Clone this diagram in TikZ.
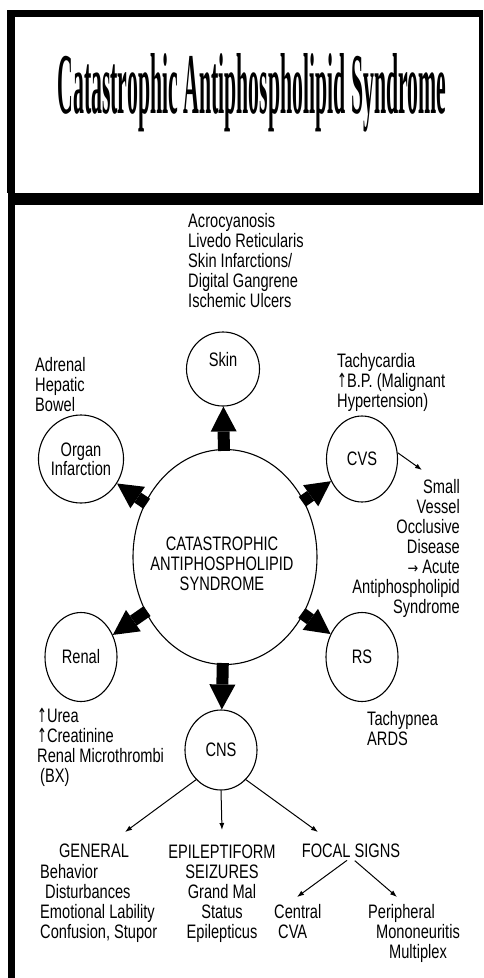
\documentclass[tikz,border=0pt]{standalone}
\usepackage{fontspec}
\usepackage{graphicx}
\setmainfont{Liberation Sans}[FakeStretch=0.75]
\newfontfamily\titlefont{Liberation Serif}
\newfontfamily\arrowfont{DejaVu Sans}[FakeStretch=0.6]
\newfontfamily\widearrowfont{DejaVu Sans}[FakeStretch=0.85]
\usetikzlibrary{arrows.meta, shapes.geometric}

\begin{document}
\begin{tikzpicture}[x=1pt, y=-1pt,
  font=\fontsize{19.5pt}{20pt}\selectfont,
  organ/.style={draw, ellipse, line width=1.1pt, inner sep=0pt},
  list/.style={align=left, anchor=base west, inner sep=0pt},
  thickarrow/.style={line width=12pt, -{Triangle[length=25pt, width=26pt, line width=0pt]}, shorten <=-2pt},
  thinarrow/.style={line width=1pt, -{Latex[length=7pt, width=5pt]}}]
\useasboundingbox (0,0) rectangle (483,978);
\fill (7,10) rectangle (483,17);
\fill (7,10) rectangle (15,193);
\fill (479,10) rectangle (483,205);
\fill (8,193) rectangle (483,205);
\fill (8,193) rectangle (15,978);
\node[anchor=base, inner sep=0pt] (title) at (252,113) {\resizebox{389pt}{60pt}{\titlefont\bfseries Catastrophic Antiphospholipid Syndrome}};
\node[organ, minimum width=184pt, minimum height=215pt] (main) at (225,557) {};
\node[align=center, anchor=base, inner sep=0pt] (maintext) at (222,590) {CATASTROPHIC\\ANTIPHOSPHOLIPID\\SYNDROME};
\node[organ, minimum width=73pt, minimum height=74pt, text depth=20pt] (skin) at (223,369) {Skin};
\node[organ, minimum width=72pt, minimum height=88pt, align=center] (organ) at (81,459) {Organ\\[-1pt]Infarction};
\node[organ, minimum width=71pt, minimum height=86pt] (cvs) at (362,459) {CVS};
\node[organ, minimum width=72pt, minimum height=89pt] (renal) at (81,657) {Renal};
\node[organ, minimum width=72pt, minimum height=89pt] (rs) at (362,657) {RS};
\node[organ, minimum width=72pt, minimum height=80pt] (cns) at (221,750) {CNS};
\node[list] (skinsigns) at (188,307) {Acrocyanosis\\Livedo Reticularis\\Skin Infarctions/\\Digital Gangrene\\Ischemic Ulcers};
\node[list] (organsites) at (35,411) {Adrenal\\Hepatic\\Bowel};
\node[list] (cvssigns) at (337,407) {Tachycardia\\{\arrowfont ↑}B.P. (Malignant\\Hypertension)};
\node[list, align=right, anchor=base east] (vessel) at (460,613) {Small\\Vessel\\Occlusive\\Disease\\{\widearrowfont\fontsize{15pt}{20pt}\selectfont →} Acute\\Antiphospholipid\\Syndrome};
\node[list] (renalsigns) at (37,782) {{\arrowfont ↑}Urea\\{\arrowfont ↑}Creatinine\\Renal Microthrombi\\\hspace{3pt}(BX)};
\node[list] (rssigns) at (367,745) {Tachypnea\\ARDS};
\node[anchor=base, inner sep=0pt] (general) at (94,857) {GENERAL};
\node[list] (generalsigns) at (40,938) {Behavior\\\hspace{5pt}Disturbances\\Emotional Lability\\Confusion, Stupor};
\node[list, align=center, anchor=base] (epilepsy) at (222,938) {EPILEPTIFORM\\SEIZURES\\Grand Mal\\Status\\Epilepticus};
\node[anchor=base, inner sep=0pt] (focal) at (351,857) {FOCAL SIGNS};
\node[list] (central) at (274,938) {Central\\\hspace{4pt}CVA};
\node[list] (peripheral) at (368,918) {Peripheral};
\node[list, align=center, anchor=base] (mononeuritis) at (418,958) {Mononeuritis\\Multiplex};
\coordinate (vesselend) at (422,470);
\coordinate (generalend) at (125,832);
\coordinate (epilepsyend) at (222,830);
\coordinate (focalend) at (318,832);
\coordinate (centralend) at (297,897);
\coordinate (peripheralend) at (397,897);
\draw[thickarrow] (main) -- (skin);
\draw[thickarrow] (main) -- (organ);
\draw[thickarrow] (main) -- (cvs);
\draw[thickarrow] (main) -- (renal);
\draw[thickarrow] (main) -- (rs);
\draw[thickarrow] (main) -- (cns);
\draw[thinarrow] (cvs.10) -- (vesselend);
\draw[thinarrow] (cns.230) -- (generalend);
\draw[thinarrow] (cns.south) -- (epilepsyend);
\draw[thinarrow] (cns.310) -- (focalend);
\draw[thinarrow, shorten <=5pt] (focal.south) -- (centralend);
\draw[thinarrow, shorten <=5pt] (focal.south) -- (peripheralend);
\end{tikzpicture}
\end{document}
